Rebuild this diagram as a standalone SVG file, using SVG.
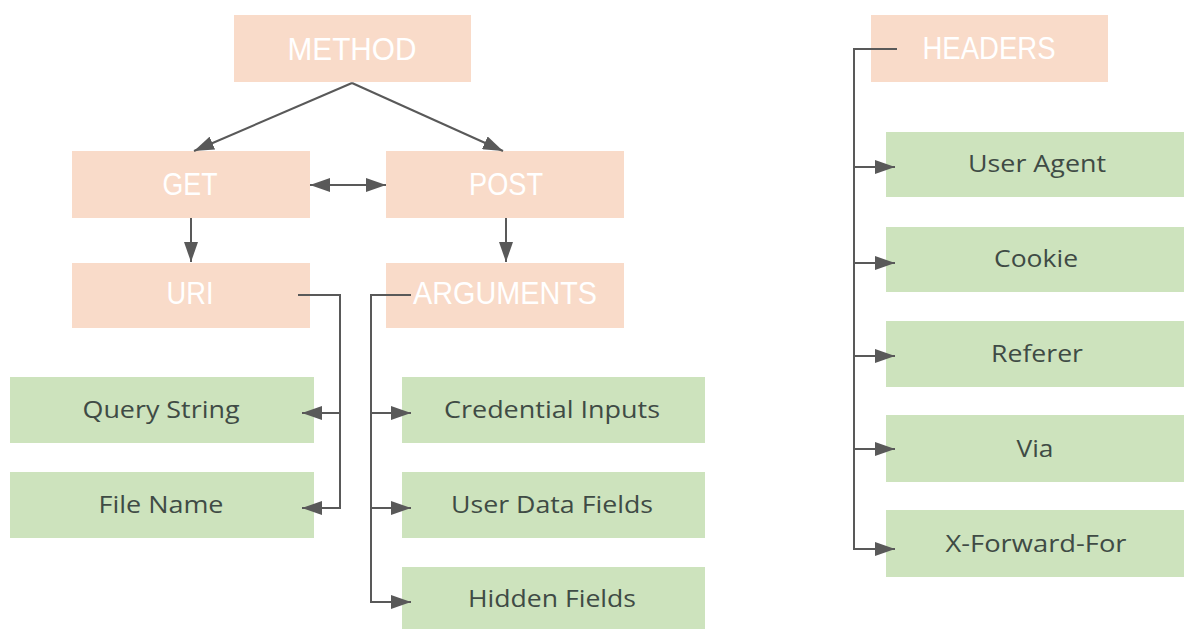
<svg xmlns="http://www.w3.org/2000/svg" width="1184" height="629" viewBox="0 0 1184 629">
  <style>
    .peach { fill: #f9dbc9; }
    .green { fill: #cde3bd; }
    .ptxt { font-family: "Liberation Sans", Arial, sans-serif; font-size: 31px; fill: #ffffff; text-anchor: middle; }
    .gtxt { font-family: "Open Sans", "Liberation Sans", sans-serif; font-size: 23px; fill: #3f4b45; text-anchor: middle; }
    .conn { fill: none; stroke: #595959; stroke-width: 2; }
  </style>
  <defs>
    <marker id="arrow" viewBox="0 0 20 14" refX="20" refY="7" markerWidth="20" markerHeight="14" markerUnits="userSpaceOnUse" orient="auto-start-reverse">
      <path d="M0,0 L20,7 L0,14 Z" fill="#595959"/>
    </marker>
  </defs>

  <rect width="1184" height="629" fill="#ffffff"/>

  <!-- request method branch -->
  <g id="method"><rect class="peach" x="234" y="15" width="237" height="67"/><text class="ptxt" x="352" y="60" textLength="129" lengthAdjust="spacingAndGlyphs">METHOD</text></g>
  <g id="get"><rect class="peach" x="72" y="151" width="238" height="67"/><text class="ptxt" x="190" y="195" textLength="55" lengthAdjust="spacingAndGlyphs">GET</text></g>
  <g id="post"><rect class="peach" x="386" y="151" width="238" height="67"/><text class="ptxt" x="506" y="195" textLength="74" lengthAdjust="spacingAndGlyphs">POST</text></g>
  <g id="uri"><rect class="peach" x="72" y="263" width="238" height="65"/><text class="ptxt" x="190" y="304" textLength="47" lengthAdjust="spacingAndGlyphs">URI</text></g>
  <g id="arguments"><rect class="peach" x="386" y="263" width="238" height="65"/><text class="ptxt" x="505" y="304" textLength="184" lengthAdjust="spacingAndGlyphs">ARGUMENTS</text></g>

  <g id="query-string"><rect class="green" x="10" y="377" width="304" height="66"/><text class="gtxt" x="161" y="418" textLength="157" lengthAdjust="spacingAndGlyphs">Query String</text></g>
  <g id="file-name"><rect class="green" x="10" y="472" width="304" height="66"/><text class="gtxt" x="161" y="513" textLength="125" lengthAdjust="spacingAndGlyphs">File Name</text></g>
  <g id="credential-inputs"><rect class="green" x="402" y="377" width="303" height="66"/><text class="gtxt" x="552" y="418" textLength="216" lengthAdjust="spacingAndGlyphs">Credential Inputs</text></g>
  <g id="user-data-fields"><rect class="green" x="402" y="472" width="303" height="66"/><text class="gtxt" x="552" y="513" textLength="202" lengthAdjust="spacingAndGlyphs">User Data Fields</text></g>
  <g id="hidden-fields"><rect class="green" x="402" y="567" width="303" height="66"/><text class="gtxt" x="552" y="607" textLength="168" lengthAdjust="spacingAndGlyphs">Hidden Fields</text></g>

  <!-- header branch -->
  <g id="headers"><rect class="peach" x="871" y="15" width="237" height="67"/><text class="ptxt" x="989" y="59" textLength="133" lengthAdjust="spacingAndGlyphs">HEADERS</text></g>
  <g id="user-agent"><rect class="green" x="886" y="132" width="300" height="65"/><text class="gtxt" x="1037" y="172" textLength="138" lengthAdjust="spacingAndGlyphs">User Agent</text></g>
  <g id="cookie"><rect class="green" x="886" y="227" width="300" height="65"/><text class="gtxt" x="1036" y="267" textLength="84" lengthAdjust="spacingAndGlyphs">Cookie</text></g>
  <g id="referer"><rect class="green" x="886" y="321" width="300" height="66"/><text class="gtxt" x="1037" y="362" textLength="92" lengthAdjust="spacingAndGlyphs">Referer</text></g>
  <g id="via"><rect class="green" x="886" y="415" width="300" height="67"/><text class="gtxt" x="1035" y="457" textLength="37" lengthAdjust="spacingAndGlyphs">Via</text></g>
  <g id="x-forward-for"><rect class="green" x="886" y="510" width="300" height="67"/><text class="gtxt" x="1036" y="552" textLength="181" lengthAdjust="spacingAndGlyphs">X-Forward-For</text></g>

  <g id="connectors">
    <path class="conn" d="M352,83 L194,151" marker-end="url(#arrow)"/>
    <path class="conn" d="M352,83 L503,151" marker-end="url(#arrow)"/>
    <path class="conn" d="M310,185 L386,185" marker-start="url(#arrow)" marker-end="url(#arrow)"/>
    <path class="conn" d="M191,218 L191,262" marker-end="url(#arrow)"/>
    <path class="conn" d="M506,218 L506,262" marker-end="url(#arrow)"/>

    <path class="conn" d="M298,295 H340 V508 H302" marker-end="url(#arrow)"/>
    <path class="conn" d="M340,413 H302" marker-end="url(#arrow)"/>

    <path class="conn" d="M411,295 H371 V602 H411" marker-end="url(#arrow)"/>
    <path class="conn" d="M371,413 H411" marker-end="url(#arrow)"/>
    <path class="conn" d="M371,508 H411" marker-end="url(#arrow)"/>

    <path class="conn" d="M897,49 H854 V549 H895" marker-end="url(#arrow)"/>
    <path class="conn" d="M854,167 H895" marker-end="url(#arrow)"/>
    <path class="conn" d="M854,263 H895" marker-end="url(#arrow)"/>
    <path class="conn" d="M854,356 H895" marker-end="url(#arrow)"/>
    <path class="conn" d="M854,449 H895" marker-end="url(#arrow)"/>
  </g>
</svg>
